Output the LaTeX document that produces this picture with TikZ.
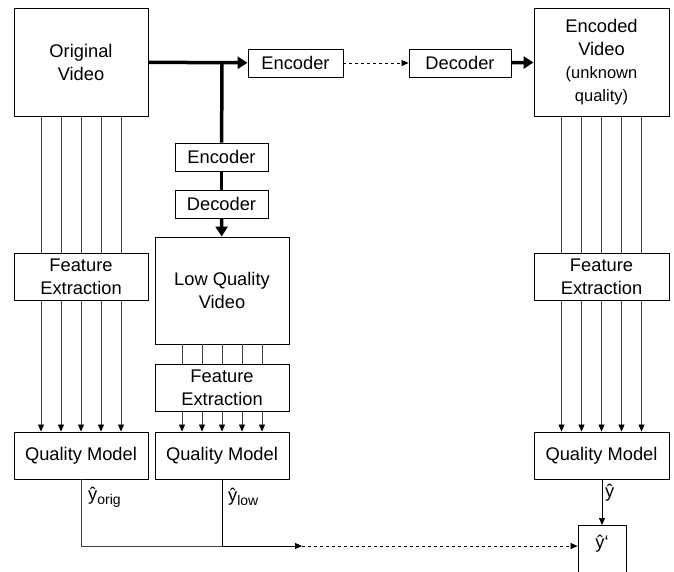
\documentclass[tikz,border=0pt]{standalone}
\usepackage{fontspec}
\setmainfont{Liberation Sans}
\usetikzlibrary{positioning}
\usetikzlibrary{arrows.meta}

\newcommand{\smallfnt}{\fontsize{16.5}{19}\selectfont}

\begin{document}
\begin{tikzpicture}[
    x=1pt, y=-1pt,
    font=\fontsize{18.3}{23}\selectfont
]
\tikzset{
    mybox/.style = {rectangle, draw=black, line width=0.9pt, align=center, inner sep=0pt},
    bigbox/.style = {mybox, minimum width=134pt, minimum height=108pt},
    febox/.style = {mybox, minimum width=134pt, minimum height=47pt},
    codecbox/.style = {mybox, minimum height=28pt},
    thickline/.style = {line width=3.5pt},
    edgethick/.style = {-{Triangle[length=10pt,width=12pt]}, line width=3.5pt},
    edgefeat/.style = {-{Triangle[length=7pt,width=6pt,black]}, line width=0.8pt, black!75},
    edgeline/.style = {line width=0.8pt, black!75},
    edgen/.style = {-{Triangle[length=7pt,width=6pt]}, line width=0.9pt},
    edgedash/.style = {-{Triangle[length=7pt,width=6pt]}, dashed, line width=0.8pt}
}
\useasboundingbox (0,0) rectangle (674,571);
% top row
\node[bigbox] at (81,62) (orig) {Original\\Video};
\node[codecbox, minimum width=95pt] at (295.5,63) (enc1) {Encoder};
\node[codecbox, minimum width=102pt] at (460,63) (dec1) {Decoder};
\node[bigbox, minimum width=135pt] at (601.5,62) (encv) {Encoded\\Video\\\smallfnt(unknown\\\smallfnt quality)};
% low quality branch
\node[codecbox, minimum width=93pt] at (221.5,157) (enc2) {Encoder};
\node[codecbox, minimum width=93pt] at (221.5,204) (dec2) {Decoder};
\node[bigbox, minimum height=107pt] at (222,290.5) (lqv) {Low Quality\\Video};
% feature extraction
\node[febox] at (81,277) (fe1) {Feature\\Extraction};
\node[febox] at (222,387.5) (fe2) {Feature\\Extraction};
\node[febox, minimum width=135pt] at (601.5,277) (fe3) {Feature\\Extraction};
% quality models
\node[febox] at (81,455.5) (qm1) {Quality Model};
\node[febox] at (222,455.5) (qm2) {Quality Model};
\node[febox, minimum width=135pt] at (601.5,455.5) (qm3) {Quality Model};
\node[mybox, anchor=north, minimum width=48pt, inner sep=3pt,
      text height=20pt, text depth=30pt] at (602,525) (yp) {ŷ‘};
% labels
\node[anchor=west, inner sep=0pt] at (88,497) (lorig) {ŷ\textsubscript{\fontsize{14}{14}\selectfont orig}};
\node[anchor=west, inner sep=0pt] at (228,497) (llow) {ŷ\textsubscript{\fontsize{14}{14}\selectfont low}};
\node[anchor=west, inner sep=0pt] at (605,493) (lyhat) {ŷ};
% codec path
\coordinate (br) at (222,63);
\draw[edgethick] (orig) -- (enc1);
\draw[edgedash] (enc1) -- (dec1);
\draw[edgethick] (dec1) -- (encv);
\draw[thickline] (br) -- (enc2);
\draw[thickline] (enc2) -- (dec2);
\draw[edgethick] (dec2) -- (lqv);
% feature lines
\foreach \d in {-40,-20,0,20,40} {
    \draw[edgeline] ([xshift=\d pt]orig.south) -- ([xshift=\d pt]fe1.north);
    \draw[edgefeat] ([xshift=\d pt]fe1.south) -- ([xshift=\d pt]qm1.north);
    \draw[edgeline] ([xshift=\d pt]lqv.south) -- ([xshift=\d pt]fe2.north);
    \draw[edgefeat] ([xshift=\d pt]fe2.south) -- ([xshift=\d pt]qm2.north);
    \draw[edgeline] ([xshift=\d pt]encv.south) -- ([xshift=\d pt]fe3.north);
    \draw[edgefeat] ([xshift=\d pt]fe3.south) -- ([xshift=\d pt]qm3.north);
}
% outputs
\coordinate (j) at (222,546);
\coordinate (m) at (302,546);
\draw[edgeline] (qm1.south) |- (j);
\draw[edgen] (qm2.south) -- (j) -- (m);
\draw[edgedash] (m) -- (m -| yp.west);
\draw[edgen] (qm3.south -| yp.north) -- (yp.north);
\end{tikzpicture}
\end{document}
